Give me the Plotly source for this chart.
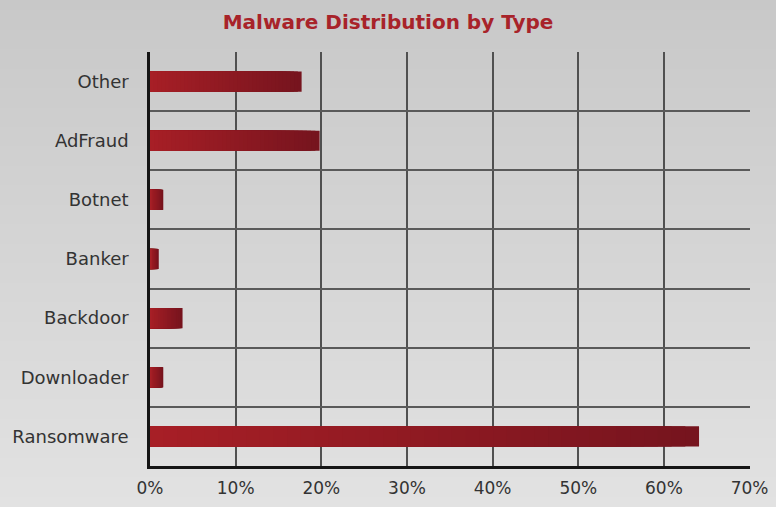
import base64
import struct
import zlib
import plotly.graph_objects as go

categories = ["Other", "AdFraud", "Botnet", "Banker", "Backdoor", "Downloader", "Ransomware"]
values = [17.7, 19.8, 1.55, 1.0, 3.8, 1.55, 64.1]
x_tick_vals = [0, 10, 20, 30, 40, 50, 60, 70]
x_tick_text = ["0%", "10%", "20%", "30%", "40%", "50%", "60%", "70%"]

W, H = 776, 507
ML, MR, MT, MB = 150, 26, 52, 41

BRIGHT = (0xA8, 0x1F, 0x26)
DARK = (0x76, 0x14, 0x1E)


def lerp_color(c1, c2, t):
    return "rgb({},{},{})".format(*[round(a + (b - a) * t) for a, b in zip(c1, c2)])


def gradient_png(h, top, bottom):
    raw = b""
    for i in range(h):
        v = round(top + (bottom - top) * i / (h - 1))
        raw += b"\x00" + bytes([v, v, v])

    def chunk(tag, data):
        c = tag + data
        return struct.pack(">I", len(data)) + c + struct.pack(">I", zlib.crc32(c) & 0xFFFFFFFF)

    png = b"\x89PNG\r\n\x1a\n"
    png += chunk(b"IHDR", struct.pack(">IIBBBBB", 1, h, 8, 2, 0, 0, 0))
    png += chunk(b"IDAT", zlib.compress(raw))
    png += chunk(b"IEND", b"")
    return "data:image/png;base64," + base64.b64encode(png).decode()


fig = go.Figure()

N = 40
for i in range(N):
    f = 1 - i / N
    fig.add_trace(go.Bar(
        y=categories,
        x=[v * f for v in values],
        orientation="h",
        width=0.34,
        marker=dict(color=lerp_color(BRIGHT, DARK, f), line=dict(width=0)),
        hoverinfo="skip" if i else "x+y",
        showlegend=False,
    ))

pw = W - ML - MR
ph = H - MT - MB
fig.add_layout_image(dict(
    source=gradient_png(H, 0xC8, 0xE2),
    xref="paper", yref="paper",
    x=-ML / pw, y=1 + MT / ph,
    sizex=W / pw, sizey=H / ph,
    sizing="stretch", layer="below", xanchor="left", yanchor="top",
))

fig.update_layout(
    autosize=True,
    margin=dict(l=ML, r=MR, t=MT, b=MB, autoexpand=False),
    barmode="overlay",
    paper_bgcolor="#d5d5d5",
    plot_bgcolor="rgba(0,0,0,0)",
    title=dict(
        text="<b>Malware Distribution by Type</b>",
        x=0.5, xanchor="center", y=1 - 22 / H, yanchor="middle",
        font=dict(family="DejaVu Sans", size=20, color="#a8232a"),
    ),
    font=dict(family="DejaVu Sans", color="#333333"),
    xaxis=dict(
        range=[0, 70.05],
        tickvals=x_tick_vals, ticktext=x_tick_text,
        showgrid=True, gridcolor="#505050", gridwidth=1.5,
        zeroline=False,
        showline=True, linecolor="#151515", linewidth=2.5,
        ticks="", ticklabelstandoff=5,
        tickfont=dict(size=17, color="#333333"),
        fixedrange=True,
    ),
    yaxis=dict(
        type="category",
        categoryorder="array", categoryarray=categories,
        autorange="reversed",
        tickson="boundaries",
        showgrid=True, gridcolor="#5a5a5a", gridwidth=1.5,
        showline=True, linecolor="#151515", linewidth=2.5,
        ticks="", ticklabelstandoff=15,
        tickfont=dict(size=18, color="#333333"),
        fixedrange=True,
    ),
)

post = (
    "document.documentElement.style.margin='0';"
    "document.documentElement.style.padding='0';"
    "document.documentElement.style.overflow='hidden';"
    "document.body.style.margin='0';"
    "document.body.style.padding='0';"
    "document.body.style.overflow='hidden';"
    "var gd=document.querySelector('.plotly-graph-div');"
    "var sx=window.innerWidth/%d, sy=window.innerHeight/%d;"
    "Plotly.relayout(gd,{autosize:true,'margin.l':%d*sx,'margin.r':%d*sx,"
    "'margin.t':%d*sy,'margin.b':%d*sy});"
) % (W, H, ML, MR, MT, MB)

fig.write_html(
    "out.html",
    config={"displayModeBar": False, "responsive": True},
    default_width="100vw",
    default_height="100vh",
    post_script=post,
)
